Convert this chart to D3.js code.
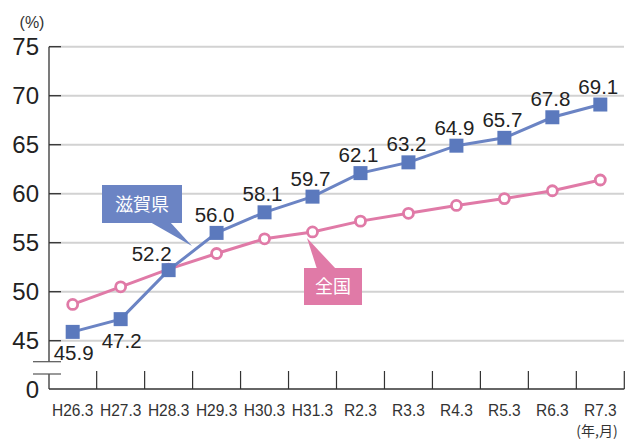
<!DOCTYPE html>
<html>
<head>
<meta charset="utf-8">
<script src="https://cdn.jsdelivr.net/npm/d3@7"></script>
<style>
  body { margin: 0; background: #fff; }
  svg { display: block; font-family: "Liberation Sans", Arial, sans-serif; }
  .jp { font-family: "Noto Sans CJK JP", sans-serif; }
</style>
</head>
<body>
<svg width="627" height="440"></svg>
<script>
// data
const categories = ["H26.3", "H27.3", "H28.3", "H29.3", "H30.3", "H31.3", "R2.3", "R3.3", "R4.3", "R5.3", "R6.3", "R7.3"];
const shiga = [45.9, 47.2, 52.2, 56.0, 58.1, 59.7, 62.1, 63.2, 64.9, 65.7, 67.8, 69.1];
const zenkoku = [48.7, 50.5, 52.3, 53.9, 55.4, 56.1, 57.2, 58.0, 58.8, 59.5, 60.3, 61.4];
const yTicks = [45, 50, 55, 60, 65, 70, 75];
// where each shiga value label sits
const labelPos = ["below", "below", "left", "above", "above", "above", "above", "above", "above", "above", "above", "above"];

const blue = "#6b84c4", blueMark = "#5b79bd", pink = "#e07aa7";

const svg = d3.select("svg");

const x = d3.scaleBand().domain(categories).range([48.7, 624.3]).padding(0);
const cx = d => x(d) + x.bandwidth() / 2;
const y = d3.scaleLinear().domain([45, 75]).range([340.7, 46.7]);
const yZero = 389;
const axisX = 49;

// gridlines
svg.append("g").selectAll("line")
  .data(yTicks)
  .enter().append("line")
  .attr("x1", axisX).attr("x2", 624)
  .attr("y1", d => y(d)).attr("y2", d => y(d))
  .attr("stroke", "#d2d2d2").attr("stroke-width", 2);

// short dark ticks on y axis
svg.append("g").selectAll("line")
  .data(yTicks)
  .enter().append("line")
  .attr("x1", axisX).attr("x2", 61)
  .attr("y1", d => y(d)).attr("y2", d => y(d))
  .attr("stroke", "#333").attr("stroke-width", 1.3);

// y axis line (broken)
svg.append("line").attr("x1", axisX).attr("x2", axisX).attr("y1", y(75)).attr("y2", 361.7)
  .attr("stroke", "#333").attr("stroke-width", 1.3);
svg.append("line").attr("x1", axisX).attr("x2", axisX).attr("y1", 374).attr("y2", yZero)
  .attr("stroke", "#333").attr("stroke-width", 1.3);
// break marks
[361.7, 374].forEach(v => {
  svg.append("line").attr("x1", 33).attr("x2", 61).attr("y1", v).attr("y2", v)
    .attr("stroke", "#555").attr("stroke-width", 1.2);
});

// x axis with upward ticks at band edges
const xg = svg.append("g");
xg.append("line").attr("x1", axisX).attr("x2", 624.3).attr("y1", yZero).attr("y2", yZero)
  .attr("stroke", "#333").attr("stroke-width", 1.3);
xg.selectAll("line.tk")
  .data(categories)
  .enter().append("line")
  .attr("class", "tk")
  .attr("x1", d => x(d) + x.bandwidth()).attr("x2", d => x(d) + x.bandwidth())
  .attr("y1", 371).attr("y2", yZero)
  .attr("stroke", "#333").attr("stroke-width", 1.2);
xg.selectAll("text")
  .data(categories)
  .enter().append("text")
  .attr("x", d => cx(d)).attr("y", 416)
  .attr("text-anchor", "middle")
  .attr("font-size", 16.5)
  .attr("fill", "#333")
  .attr("transform", d => `translate(${cx(d) * 0.06},0) scale(0.94,1)`)
  .text(d => d);

// y tick labels
svg.append("g").selectAll("text")
  .data(yTicks)
  .enter().append("text")
  .attr("x", 39).attr("y", d => y(d) + 8.5)
  .attr("text-anchor", "end")
  .attr("font-size", 24)
  .attr("fill", "#222")
  .text(d => d);
svg.append("text").attr("x", 39).attr("y", yZero + 8.5).attr("text-anchor", "end")
  .attr("font-size", 24).attr("fill", "#222").text("0");

svg.append("text").attr("x", 32).attr("y", 28).attr("text-anchor", "middle")
  .attr("font-size", 16).attr("fill", "#333").text("(%)");
svg.append("text").attr("class", "jp").attr("x", 597).attr("y", 436).attr("text-anchor", "middle")
  .attr("font-size", 14).attr("fill", "#333").text("(年,月)");

// lines
const lineGen = d3.line().x((d, i) => cx(categories[i])).y(d => y(d));

svg.append("path").datum(zenkoku)
  .attr("d", lineGen).attr("fill", "none")
  .attr("stroke", pink).attr("stroke-width", 3);

svg.append("path").datum(shiga)
  .attr("d", lineGen).attr("fill", "none")
  .attr("stroke", blue).attr("stroke-width", 3);

svg.append("g").selectAll("circle")
  .data(zenkoku)
  .enter().append("circle")
  .attr("cx", (d, i) => cx(categories[i])).attr("cy", d => y(d))
  .attr("r", 5).attr("fill", "#fff")
  .attr("stroke", pink).attr("stroke-width", 2.8);

const sq = 14;
svg.append("g").selectAll("rect")
  .data(shiga)
  .enter().append("rect")
  .attr("x", (d, i) => cx(categories[i]) - sq / 2).attr("y", d => y(d) - sq / 2)
  .attr("width", sq).attr("height", sq)
  .attr("fill", blueMark);

// value labels
svg.append("g").selectAll("text")
  .data(shiga)
  .enter().append("text")
  .attr("x", (d, i) => {
    const p = labelPos[i];
    return cx(categories[i]) + (p === "left" ? -17 : p === "below" ? 1 : -2);
  })
  .attr("y", (d, i) => {
    const p = labelPos[i];
    return y(d) + (p === "below" ? 28.5 : p === "left" ? -9 : -11);
  })
  .attr("text-anchor", "middle")
  .attr("font-size", 20.5)
  .attr("fill", "#222")
  .text(d => d.toFixed(1));

// callout: 滋賀県
svg.append("path")
  .attr("d", "M150,222 L170,222 L192,246 Z")
  .attr("fill", blue);
svg.append("rect").attr("x", 102).attr("y", 185).attr("width", 80).attr("height", 38).attr("fill", blue);
svg.append("text").attr("class", "jp").attr("x", 142).attr("y", 211).attr("text-anchor", "middle")
  .attr("font-size", 18).attr("fill", "#fff").text("滋賀県");

// callout: 全国
svg.append("path")
  .attr("d", "M307,238 L317,269 L336,269 Z")
  .attr("fill", pink);
svg.append("rect").attr("x", 304).attr("y", 268).attr("width", 58).attr("height", 37).attr("fill", pink);
svg.append("text").attr("class", "jp").attr("x", 333).attr("y", 293).attr("text-anchor", "middle")
  .attr("font-size", 18).attr("fill", "#fff").text("全国");
</script>
</body>
</html>
